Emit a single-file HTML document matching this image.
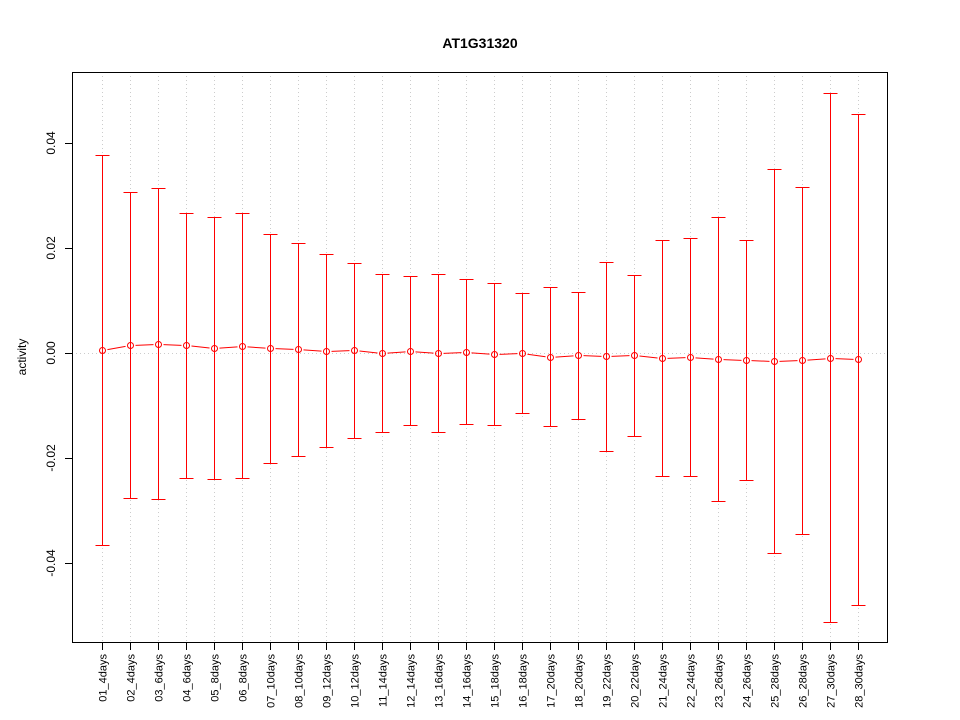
<!DOCTYPE html>
<html><head><meta charset="utf-8"><style>body{margin:0;background:#fff}svg{display:block}</style></head><body>
<svg width="960" height="720" xmlns="http://www.w3.org/2000/svg" font-family="Liberation Sans, sans-serif">
<rect width="960" height="720" fill="#fff"/>
<text x="480" y="48" text-anchor="middle" font-size="14" font-weight="bold">AT1G31320</text>
<g id="grid" stroke="#ccc" stroke-dasharray="1,3"></g>
<line x1="72" y1="353.5" x2="888" y2="353.5" stroke="#ccc" stroke-dasharray="1,3"/>
<rect x="72.5" y="72.5" width="815" height="570" fill="none" stroke="#000"/>
<g font-size="12" text-anchor="middle">
<line x1="72" y1="143.5" x2="65" y2="143.5" stroke="#000"/><text transform="translate(55,143) rotate(-90)">0.04</text>
<line x1="72" y1="248.5" x2="65" y2="248.5" stroke="#000"/><text transform="translate(55,248) rotate(-90)">0.02</text>
<line x1="72" y1="353.5" x2="65" y2="353.5" stroke="#000"/><text transform="translate(55,353) rotate(-90)">0.00</text>
<line x1="72" y1="458.5" x2="65" y2="458.5" stroke="#000"/><text transform="translate(55,458) rotate(-90)">-0.02</text>
<line x1="72" y1="563.5" x2="65" y2="563.5" stroke="#000"/><text transform="translate(55,563) rotate(-90)">-0.04</text>
<text transform="translate(26,357) rotate(-90)">activity</text>
</g>
<g id="ticks"></g>
<g id="series" stroke="#f00" stroke-width="1" fill="none"></g>
<script>
var d=[[350,155,545],[345,192,498],[344,188,499],[345,213,478],[348,217,479],[346,213,478],[348,234,463],[349,243,456],[351,254,447],[350,263,438],[353,274,432],[351,276,425],[353,274,432],[352,279,424],[354,283,425],[353,293,413],[357,287,426],[355,292,419],[356,262,451],[355,275,436],[358,240,476],[357,238,476],[359,217,501],[360,240,480],[361,169,553],[360,187,534],[358,93,622],[359,114,605]];
var lab=["01_4days","02_4days","03_6days","04_6days","05_8days","06_8days","07_10days","08_10days","09_12days","10_12days","11_14days","12_14days","13_16days","14_16days","15_18days","16_18days","17_20days","18_20days","19_22days","20_22days","21_24days","22_24days","23_26days","24_26days","25_28days","26_28days","27_30days","28_30days"];
var ns="http://www.w3.org/2000/svg";
function el(p,t,a,txt){var e=document.createElementNS(ns,t);for(var k in a)e.setAttribute(k,a[k]);if(txt)e.textContent=txt;p.appendChild(e);return e;}
var g=document.getElementById('grid'),tk=document.getElementById('ticks'),s=document.getElementById('series');
for(var i=0;i<28;i++){var x=102.5+i*28;
el(g,'line',{x1:x,y1:72,x2:x,y2:643});
el(tk,'line',{x1:x,y1:643,x2:x,y2:650,stroke:'#000'});
el(tk,'text',{transform:'translate('+(x+4)+',654) rotate(-90)','text-anchor':'end','font-size':'11'},lab[i]);
var v=d[i];
el(s,'line',{x1:x,y1:v[1]+.5,x2:x,y2:v[2]+.5});
el(s,'line',{x1:x-7,y1:v[1]+.5,x2:x+7,y2:v[1]+.5});
el(s,'line',{x1:x-7,y1:v[2]+.5,x2:x+7,y2:v[2]+.5});
el(s,'circle',{cx:x,cy:v[0]+.5,r:3});
if(i<27){var w=d[i+1],dx=28,dy=w[0]-v[0],L=Math.sqrt(dx*dx+dy*dy),f=5/L;
el(s,'line',{x1:x+dx*f,y1:v[0]+.5+dy*f,x2:x+28-dx*f,y2:w[0]+.5-dy*f});}
}
</script>
</svg>
</body></html>
